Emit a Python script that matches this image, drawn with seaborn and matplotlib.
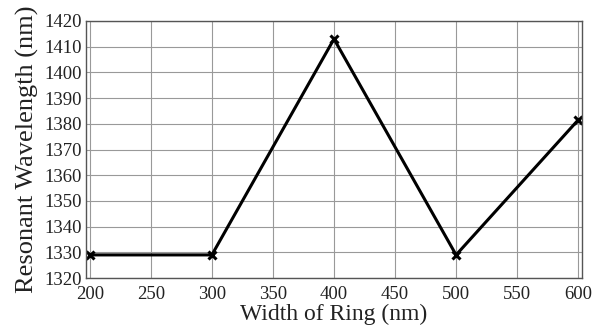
import matplotlib
matplotlib.use("Agg")
import matplotlib.pyplot as plt
import seaborn as sns
import pandas as pd

widths = [200, 300, 400, 500, 600]
wavelengths = [1329, 1329, 1413, 1329, 1381.5]
x_ticks = [200, 250, 300, 350, 400, 450, 500, 550, 600]
y_ticks = [1320, 1330, 1340, 1350, 1360, 1370, 1380, 1390, 1400, 1410, 1420]

sns.set_style("white")
plt.rcParams['font.family'] = ['Liberation Serif', 'DejaVu Serif']

df = pd.DataFrame({"w": widths, "r": wavelengths})
fig = plt.figure(figsize=(5.98, 3.33), dpi=100)
ax = fig.add_axes([0.144, 0.165, 0.829, 0.772])
sns.lineplot(data=df, x="w", y="r", ax=ax, color="black", linewidth=2.2,
             marker="x", markersize=6, markeredgewidth=2.2, markeredgecolor="black")
ax.set_xlim(197, 603)
ax.set_ylim(1320, 1420)
ax.set_xticks(x_ticks)
ax.set_yticks(y_ticks)
ax.grid(True, color="#999999", linewidth=0.8)
ax.set_axisbelow(True)
for s in ax.spines.values():
    s.set_color("#555555")
    s.set_linewidth(1.0)
ax.tick_params(axis="both", length=0, labelsize=13.5, colors="#222222")
ax.tick_params(axis="x", pad=6)
ax.tick_params(axis="y", pad=3)
ax.set_xlabel("Width of Ring (nm)", fontsize=17, labelpad=0, color="#222222")
ax.set_ylabel("Resonant Wavelength (nm)", fontsize=19, labelpad=4, color="#222222")
fig.savefig("out.png", dpi=100)
